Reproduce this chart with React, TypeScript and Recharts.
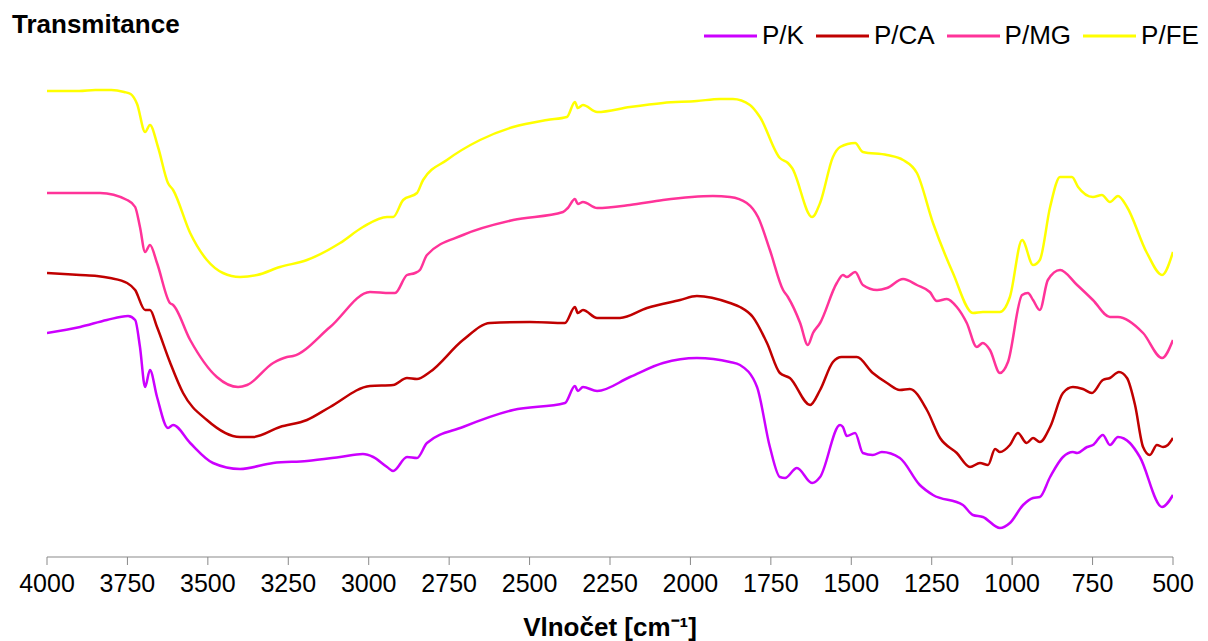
import { LineChart, Line, XAxis, YAxis, Legend, Label } from 'recharts';

// wavenumbers (cm-1) and transmittance readings (arbitrary units, offset spectra)
const kWn = [4000, 3897, 3814, 3748, 3726, 3711, 3695, 3680, 3658, 3624, 3608, 3555, 3484, 3400, 3297, 3192, 3089, 3018, 2986, 2943, 2924, 2881, 2850, 2819, 2707, 2551, 2390, 2359, 2350, 2334, 2290, 2188, 2085, 1980, 1877, 1846, 1793, 1753, 1722, 1706, 1669, 1622, 1597, 1535, 1526, 1514, 1488, 1464, 1433, 1405, 1349, 1287, 1246, 1153, 1122, 1091, 1038, 1007, 966, 935, 914, 882, 842, 811, 798, 767, 749, 718, 696, 671, 634, 603, 534, 500];
const kT = [224, 230, 237, 241, 237, 210, 170, 187, 160, 129, 132, 114, 94, 88, 94, 96, 100, 103, 100, 90, 86, 100, 99, 114, 130, 147, 154, 171, 166, 170, 166, 180, 194, 199, 195, 192, 170, 110, 80, 79, 89, 74, 80, 132, 130, 121, 124, 104, 102, 105, 99, 72, 62, 52, 42, 40, 29, 34, 52, 59, 60, 80, 100, 105, 104, 110, 112, 122, 112, 120, 114, 100, 50, 62];

const caWn = [4000, 3897, 3845, 3804, 3751, 3726, 3695, 3680, 3658, 3618, 3577, 3503, 3400, 3360, 3276, 3192, 3120, 2996, 2924, 2881, 2850, 2810, 2707, 2623, 2499, 2390, 2359, 2350, 2334, 2290, 2219, 2135, 2032, 1980, 1877, 1846, 1806, 1762, 1722, 1691, 1628, 1597, 1557, 1530, 1483, 1433, 1389, 1349, 1318, 1265, 1224, 1172, 1131, 1100, 1075, 1053, 1038, 1007, 982, 955, 935, 914, 882, 842, 811, 780, 752, 718, 696, 668, 643, 618, 593, 572, 550, 531, 516, 500];
const caT = [284, 282, 281, 279, 274, 267, 247, 247, 230, 195, 164, 137, 120, 120, 130, 137, 150, 171, 172, 179, 178, 185, 217, 234, 235, 234, 250, 244, 247, 239, 239, 249, 257, 261, 254, 250, 240, 214, 184, 179, 152, 167, 195, 200, 200, 184, 174, 167, 168, 147, 119, 104, 90, 94, 92, 108, 105, 112, 124, 114, 119, 115, 130, 164, 170, 168, 164, 177, 179, 185, 179, 152, 110, 102, 112, 110, 112, 119];

const mgWn = [4000, 3835, 3751, 3726, 3711, 3695, 3680, 3658, 3618, 3608, 3555, 3472, 3406, 3378, 3297, 3254, 3235, 3120, 2996, 2934, 2918, 2881, 2856, 2841, 2819, 2707, 2551, 2396, 2381, 2359, 2350, 2334, 2290, 2188, 2085, 1930, 1877, 1825, 1790, 1753, 1712, 1697, 1659, 1635, 1619, 1597, 1545, 1526, 1514, 1488, 1464, 1420, 1389, 1339, 1296, 1256, 1234, 1203, 1172, 1141, 1110, 1091, 1069, 1038, 1013, 969, 951, 935, 914, 889, 851, 798, 749, 696, 671, 593, 534, 500];
const mgT = [364, 364, 357, 350, 330, 305, 312, 294, 254, 252, 217, 180, 170, 172, 194, 200, 201, 230, 265, 264, 264, 282, 284, 287, 302, 322, 337, 345, 349, 358, 353, 355, 349, 352, 357, 361, 360, 354, 340, 307, 267, 260, 234, 212, 224, 234, 274, 282, 280, 285, 272, 267, 269, 278, 272, 265, 256, 258, 250, 234, 210, 214, 207, 184, 195, 262, 264, 257, 247, 277, 287, 272, 257, 240, 240, 224, 199, 217];

const feWn = [4000, 3900, 3850, 3800, 3760, 3740, 3720, 3695, 3680, 3655, 3624, 3608, 3555, 3503, 3453, 3400, 3347, 3276, 3192, 3089, 3018, 2943, 2924, 2893, 2850, 2831, 2757, 2654, 2551, 2446, 2384, 2359, 2350, 2334, 2290, 2188, 2085, 1980, 1908, 1868, 1815, 1784, 1722, 1697, 1684, 1622, 1597, 1557, 1535, 1488, 1464, 1389, 1339, 1296, 1246, 1184, 1122, 1091, 1038, 1007, 969, 935, 914, 882, 851, 814, 795, 749, 721, 696, 671, 643, 581, 534, 500];
const feT = [466, 466, 467, 467, 465, 463, 453, 425, 432, 410, 374, 367, 324, 297, 284, 280, 282, 290, 297, 314, 330, 340, 340, 357, 364, 377, 397, 417, 430, 437, 440, 455, 449, 452, 445, 450, 454, 456, 458, 458, 452, 440, 399, 394, 389, 340, 354, 400, 410, 414, 405, 402, 397, 384, 334, 284, 244, 245, 245, 260, 317, 292, 297, 350, 380, 380, 370, 360, 362, 355, 361, 350, 304, 282, 305];

const xTicks = [4000, 3750, 3500, 3250, 3000, 2750, 2500, 2250, 2000, 1750, 1500, 1250, 1000, 750, 500];

const zip = (wn: number[], t: number[]) => wn.map((w, i) => ({ wn: w, t: t[i] }));

const series = [
  { name: 'P/K', color: '#CC00FF', data: zip(kWn, kT) },
  { name: 'P/CA', color: '#C00000', data: zip(caWn, caT) },
  { name: 'P/MG', color: '#FF3399', data: zip(mgWn, mgT) },
  { name: 'P/FE', color: '#FFFF00', data: zip(feWn, feT) },
];

const FONT = '"Liberation Sans", Arial, sans-serif';

function renderLegend() {
  return (
    <div style={{ display: 'flex', alignItems: 'center', fontFamily: FONT, fontSize: 26, color: '#000' }}>
      {series.map((s) => (
        <div key={s.name} style={{ display: 'flex', alignItems: 'center', marginRight: 12 }}>
          <svg width={53} height={4} style={{ marginRight: 5 }}>
            <line x1={0} y1={2} x2={53} y2={2} stroke={s.color} strokeWidth={3} />
          </svg>
          <span>{s.name}</span>
        </div>
      ))}
    </div>
  );
}

export default function App() {
  return (
    <div style={{ position: 'absolute', left: 0, top: 0, width: 1208, height: 641, background: '#fff' }}>
      <div style={{ position: 'absolute', left: 12, top: 9, fontFamily: FONT, fontSize: 26, fontWeight: 'bold', lineHeight: '30px', zIndex: 2 }}>
        Transmitance
      </div>
      <LineChart width={1208} height={641} margin={{ top: 40, right: 35, left: 47, bottom: 0 }}>
        <XAxis
          dataKey="wn"
          type="number"
          domain={[500, 4000]}
          reversed
          ticks={xTicks}
          interval={0}
          allowDataOverflow
          height={84}
          tickSize={8}
          tickMargin={9}
          stroke="#898989"
          tick={{ fill: '#000', fontSize: 25, fontFamily: FONT }}
        >
          <Label
            value="Vlnočet [cm⁻¹]"
            position="insideBottom"
            offset={5}
            style={{ fill: '#000', fontSize: 26, fontWeight: 'bold', fontFamily: FONT }}
          />
        </XAxis>
        <YAxis hide type="number" domain={[0, 517]} />
        <Legend
          layout="horizontal"
          verticalAlign="middle"
          align="center"
          content={renderLegend}
          wrapperStyle={{ left: 704, top: 20, width: 504, height: 36 }}
        />
        {series.map((s) => (
          <Line
            key={s.name}
            data={s.data}
            dataKey="t"
            name={s.name}
            type="monotone"
            stroke={s.color}
            strokeWidth={2.5}
            dot={false}
            activeDot={false}
            isAnimationActive={false}
          />
        ))}
      </LineChart>
    </div>
  );
}
